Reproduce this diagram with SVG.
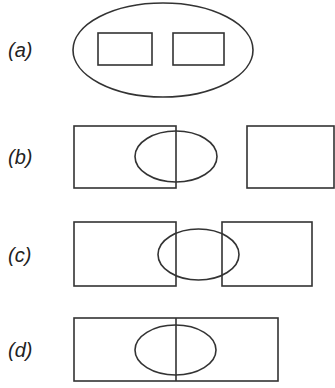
<svg xmlns="http://www.w3.org/2000/svg" width="335" height="388" viewBox="0 0 335 388">
<style>
.s{fill:none;stroke:#333;stroke-width:1.6}
.l{font-family:"Liberation Sans",Arial,sans-serif;font-style:italic;font-size:20px;fill:#222}
</style>
<rect width="335" height="388" fill="#fff"/>
<g id="a">
<text class="l" x="8" y="57">(a)</text>
<ellipse class="s" cx="163" cy="50" rx="90" ry="47"/>
<rect class="s" x="98" y="33" width="54" height="32"/>
<rect class="s" x="173" y="33" width="51" height="32"/>
</g>
<g id="b">
<text class="l" x="8" y="164">(b)</text>
<rect class="s" x="74" y="126" width="102" height="62"/>
<ellipse class="s" cx="176" cy="156.5" rx="41" ry="25.5"/>
<rect class="s" x="247" y="126" width="87" height="62"/>
</g>
<g id="c">
<text class="l" x="8" y="262">(c)</text>
<rect class="s" x="74" y="222" width="102" height="64"/>
<ellipse class="s" cx="198.5" cy="254.5" rx="40.5" ry="25.5"/>
<rect class="s" x="222" y="222" width="90" height="64"/>
</g>
<g id="d">
<text class="l" x="8" y="357">(d)</text>
<rect class="s" x="74" y="318" width="204" height="63"/>
<line class="s" x1="176" y1="318" x2="176" y2="381"/>
<ellipse class="s" cx="175.5" cy="350" rx="40.5" ry="25"/>
</g>
<g id="connectors"/>
</svg>
